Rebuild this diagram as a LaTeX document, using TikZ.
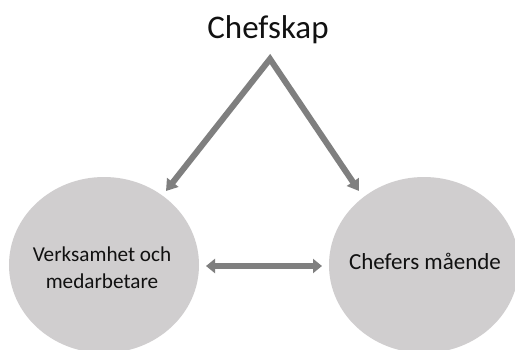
\documentclass[tikz,border=0pt]{standalone}
\usepackage{fontspec}
\setmainfont{Carlito}
\usetikzlibrary{arrows.meta,shapes.geometric}
\definecolor{circlegrey}{HTML}{D0CECF}
\definecolor{arrowgrey}{HTML}{7F7F7F}
\definecolor{txt}{HTML}{111111}
\tikzset{
  bubble/.style={ellipse, fill=circlegrey, draw=none, minimum width=190pt, minimum height=176pt, inner sep=0pt},
  label text/.style={text=txt, align=center, inner sep=0pt},
  flow/.style={draw=arrowgrey, line width=6pt, line join=miter}
}
\begin{document}
\begin{tikzpicture}[x=1pt,y=-1pt]
\useasboundingbox (0,0) rectangle (515,349);
\clip (0,0) rectangle (515,349);
\fill[white] (0,0) rectangle (515,349);
\node[bubble] (left) at (104,265) {};
\node[bubble] (right) at (424,265) {};
\node[label text, font=\fontsize{21.2}{27}\selectfont] (lefttext) at (102,268) {Verksamhet och\\medarbetare};
\node[label text, font=\fontsize{23}{27}\selectfont] (righttext) at (425,261) {Chefers mående};
\node[label text, font=\fontsize{33}{36}\selectfont] (chefskap) at (268,30) {Chefskap};
\coordinate (apex) at (270,59);
\coordinate (ltip) at (166,191);
\coordinate (rtip) at (359,191);
\coordinate (dl) at (206,266);
\coordinate (dr) at (322,266);
\draw[flow, {Triangle[length=11pt,width=14pt]}-{Triangle[length=11pt,width=14pt]}] (ltip) -- (apex) -- (rtip);
\draw[flow, {Triangle[length=9pt,width=14pt]}-{Triangle[length=9pt,width=14pt]}] (dl) -- (dr);
\end{tikzpicture}
\end{document}
